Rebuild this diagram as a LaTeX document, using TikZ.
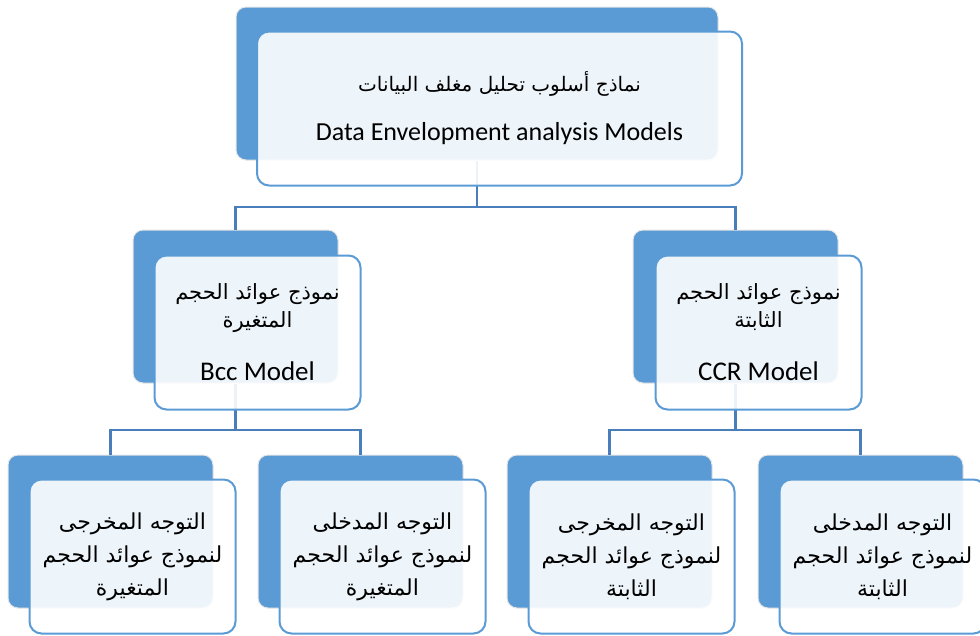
\documentclass[tikz,border=0pt]{standalone}
\usepackage{fontspec}
\setmainfont{Carlito}
\newfontfamily\arabicfont[Script=Arabic]{DejaVu Sans}
\TeXXeTstate=1
\newcommand{\ar}[1]{{\arabicfont\beginR #1\endR}}
\definecolor{boxblue}{HTML}{5B9BD5}
\definecolor{linkblue}{HTML}{4A7EBB}
\tikzset{
  backbox/.style={rectangle, rounded corners=10pt, fill=boxblue, draw=gray!20,
    line width=1pt, inner sep=0pt, minimum width=205pt, minimum height=153pt},
  frontbox/.style={rectangle, rounded corners=12pt, fill=white, fill opacity=0.9,
    text opacity=1, draw=boxblue, draw opacity=1, line width=2pt, inner sep=0pt,
    minimum width=206pt, minimum height=154pt, align=center, text=black},
  link/.style={draw=linkblue, line width=2.2pt},
  lbl/.style={font=\fontsize{22}{33}\selectfont}
}
\begin{document}
\begin{tikzpicture}[x=1pt,y=-1pt]
\useasboundingbox (0,0) rectangle (980,635);
\clip (0,0) rectangle (980,635);
% back panels
\node[backbox, minimum width=482pt] (b0) at (477,83.5) {};
\node[backbox] (b1) at (235.5,306.5) {};
\node[backbox] (b2) at (735.5,306.5) {};
\node[backbox] (b11) at (110.5,531.5) {};
\node[backbox] (b12) at (360.5,531.5) {};
\node[backbox] (b21) at (609.5,531.5) {};
\node[backbox] (b22) at (860.5,531.5) {};
% connectors
\coordinate (j0) at (477,207);
\coordinate (j1) at (235.5,430);
\coordinate (j2) at (735.5,430);
\draw[link] (b0.south) -- (j0) -| (b1.north);
\draw[link] (j0) -| (b2.north);
\draw[link] (b1.south) -- (j1) -| (b11.north);
\draw[link] (j1) -| (b12.north);
\draw[link] (b2.south) -- (j2) -| (b21.north);
\draw[link] (j2) -| (b22.north);
% front panels with labels
\node[frontbox, minimum width=485pt, font=\fontsize{26}{49}\selectfont] (f0) at (499.5,108.5)
  {{\fontsize{20}{24}\selectfont\ar{نماذج أسلوب تحليل مغلف البيانات}}\\Data Envelopment analysis Models};
\node[frontbox, font=\fontsize{21}{28}\selectfont] (f1) at (257.5,332.5)
  {\ar{نموذج عوائد الحجم}\\\ar{المتغيرة}\\[25pt]{\fontsize{27}{28}\selectfont Bcc Model}};
\node[frontbox, font=\fontsize{21}{28}\selectfont] (f2) at (758.5,332.5)
  {\ar{نموذج عوائد الحجم}\\\ar{الثابتة}\\[25pt]{\fontsize{27}{28}\selectfont CCR Model}};
\node[frontbox, lbl] (f11) at (132.5,556.5)
  {\ar{التوجه المخرجى}\\\ar{لنموذج عوائد الحجم}\\\ar{المتغيرة}};
\node[frontbox, lbl] (f12) at (382.5,556.5)
  {\ar{التوجه المدخلى}\\\ar{لنموذج عوائد الحجم}\\\ar{المتغيرة}};
\node[frontbox, lbl] (f21) at (631.5,556.5)
  {\ar{التوجه المخرجى}\\\ar{لنموذج عوائد الحجم}\\\ar{الثابتة}};
\node[frontbox, lbl] (f22) at (882.5,556.5)
  {\ar{التوجه المدخلى}\\\ar{لنموذج عوائد الحجم}\\\ar{الثابتة}};
\end{tikzpicture}
\end{document}
